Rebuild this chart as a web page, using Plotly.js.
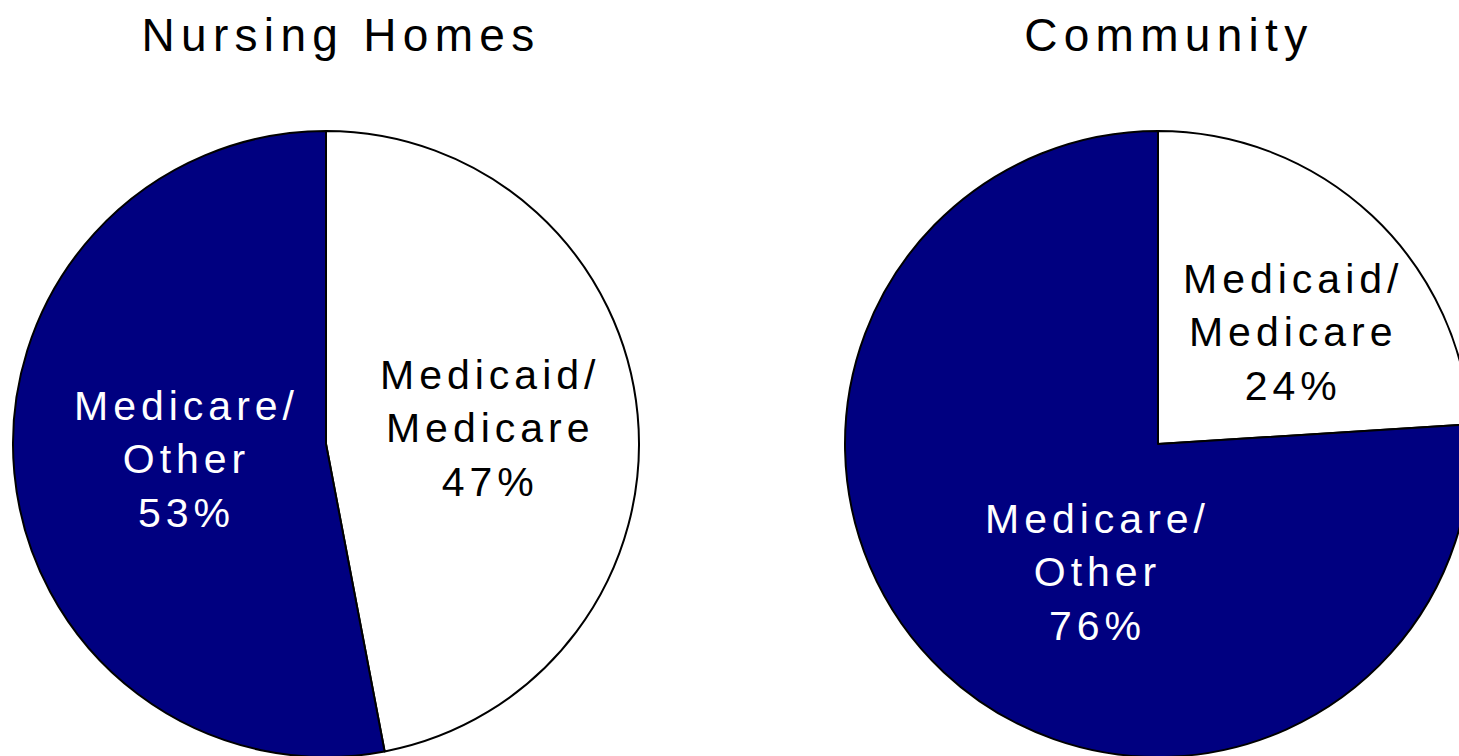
<!DOCTYPE html>
<html>
<head>
<meta charset="utf-8">
<script src="https://cdn.plot.ly/plotly-3.0.1.min.js"></script>
<style>
  html, body { margin: 0; padding: 0; background: #ffffff; overflow: hidden; }
  #chart { width: 1500px; height: 800px; }
  .annotation-text { letter-spacing: 5px; }
  .ttl .annotation-text { letter-spacing: 6.3px; }
</style>
</head>
<body>
<div id="chart"></div>
<script>
// ---- data ----
const chartTitles = ["Nursing Homes", "Community"];
const sliceLabels = ["Medicaid/<br>Medicare", "Medicare/<br>Other"];
const nursingHomeValues = [47, 53];
const communityValues = [24, 76];
const sliceColors = ["#ffffff", "#000080"];
const labelColors = ["#000000", "#ffffff"];

// ---- layout helpers (pixel -> paper) ----
const W = 1500, H = 800;
const px = x => x / W;
const py = y => 1 - y / H;

const pieCommon = {
  type: "pie",
  labels: sliceLabels,
  sort: false,
  direction: "clockwise",
  rotation: 0,
  textinfo: "none",
  hoverinfo: "skip",
  showlegend: false,
  marker: { colors: sliceColors, line: { color: "#000000", width: 2 } }
};

const traces = [
  Object.assign({}, pieCommon, {
    values: nursingHomeValues,
    domain: { x: [px(13), px(639)], y: [py(757), py(131)] }
  }),
  Object.assign({}, pieCommon, {
    values: communityValues,
    domain: { x: [px(845), px(1471)], y: [py(757), py(131)] }
  })
];

const fontFam = "Liberation Sans, Arial, sans-serif";

// label placement (pixel centres of each label block)
const labelPos = [
  [[490, 428], [186, 460]],
  [[1293, 332], [1097, 572]]
];
const titlePos = [[341, 35], [1169, 35]];
const seriesValues = [nursingHomeValues, communityValues];

const annotations = [];
chartTitles.forEach((t, i) => {
  annotations.push({
    xref: "paper", yref: "paper",
    x: px(titlePos[i][0]), y: py(titlePos[i][1]),
    xanchor: "center", yanchor: "middle",
    text: t, showarrow: false,
    font: { family: fontFam, size: 46, color: "#000000" },
    name: "ttl"
  });
});
seriesValues.forEach((vals, i) => {
  const total = vals.reduce((a, b) => a + b, 0);
  vals.forEach((v, j) => {
    annotations.push({
      xref: "paper", yref: "paper",
      x: px(labelPos[i][j][0]), y: py(labelPos[i][j][1]),
      xanchor: "center", yanchor: "middle", align: "center",
      text: sliceLabels[j] + "<br>" + Math.round(v / total * 100) + "%",
      showarrow: false,
      font: { family: fontFam, size: 41, color: labelColors[j] }
    });
  });
});

const layout = {
  width: W, height: H,
  margin: { l: 0, r: 0, t: 0, b: 0 },
  paper_bgcolor: "#ffffff",
  plot_bgcolor: "#ffffff",
  annotations: annotations
};

Plotly.newPlot("chart", traces, layout, { displayModeBar: false, staticPlot: true }).then(() => {
  // wider tracking on the two titles
  document.querySelectorAll(".annotation").forEach((g, k) => {
    if (k < chartTitles.length) {
      g.querySelectorAll(".annotation-text").forEach(t => t.style.letterSpacing = "6.3px");
    }
  });
});
</script>
</body>
</html>
